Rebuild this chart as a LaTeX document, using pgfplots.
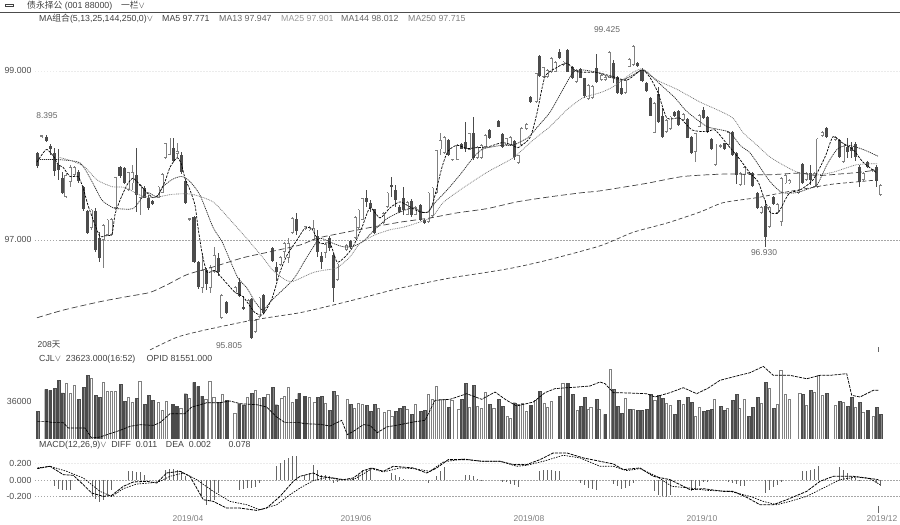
\documentclass[border=0pt]{standalone}
\usepackage{fontspec}
\setmainfont{Liberation Sans}
\newfontfamily\cjk{Noto Sans CJK SC}
\usepackage{pgfplots}
\usepackage{pgfplotstable}
\pgfplotsset{compat=1.18}

% candles: x position, low, body bottom, body top, high
\pgfplotstableread{
x l b t h
37.7 97.85 97.88 98.03 98.04
46.3 98.16 98.17 98.22 98.24
50.3 98.01 98.07 98.11 98.14
54.3 97.76 97.82 98.03 98.09
58.3 97.71 97.83 97.89 98.08
62.3 97.54 97.56 97.73 97.80
78.3 97.67 97.70 97.80 97.83
83.3 97.34 97.36 97.63 97.64
87.3 97.07 97.08 97.34 97.36
95.3 96.86 96.88 97.34 97.38
99.3 96.74 96.79 97.02 97.09
120 97.73 97.76 97.86 97.88
124.3 97.66 97.67 97.85 97.86
136.3 97.33 97.53 97.77 98.09
144.3 97.49 97.50 97.62 97.64
148.3 97.36 97.38 97.50 97.53
152.3 97.41 97.43 97.46 97.47
173.3 97.92 97.93 98.09 98.21
181.3 97.78 97.80 98.01 98.04
185.6 97.43 97.44 97.70 97.71
194 96.73 96.74 97.27 97.28
198.3 96.42 96.44 96.74 96.75
206.3 96.41 96.48 96.64 96.67
218.3 96.57 96.62 96.79 96.85
226.3 96.13 96.14 96.27 96.28
239.3 96.33 96.34 96.50 96.55
243.3 96.17 96.18 96.21 96.34
251.3 95.83 95.84 96.30 96.31
263.3 96.12 96.14 96.35 96.36
272.3 96.74 96.75 96.90 96.92
276.3 96.51 96.62 96.68 96.74
296.3 97.06 97.11 97.25 97.32
317.3 96.80 96.86 97.05 97.12
321.3 96.66 96.74 96.81 96.86
329.3 96.87 96.91 97.02 97.05
333.3 96.27 96.43 96.82 96.85
350.3 96.89 96.92 96.99 97.00
366.3 97.39 97.45 97.50 97.59
370.3 97.33 97.38 97.44 97.47
374.3 97.07 97.08 97.36 97.37
391.3 97.51 97.63 97.65 97.75
395.3 97.39 97.47 97.59 97.65
399.3 97.32 97.33 97.39 97.41
403.3 97.30 97.36 97.50 97.63
411.3 97.27 97.30 97.46 97.49
420.3 97.22 97.24 97.41 97.43
424.3 97.19 97.20 97.24 97.25
448.3 97.99 98.01 98.18 98.20
461.3 98.07 98.08 98.14 98.15
465.3 98.04 98.08 98.16 98.40
473.3 97.95 97.97 98.27 98.46
489.3 98.20 98.21 98.30 98.31
498.3 98.33 98.34 98.41 98.42
502.3 98.09 98.10 98.25 98.27
514.3 97.95 97.98 98.17 98.18
530.7 98.62 98.63 98.69 98.70
539.3 98.93 98.94 99.18 99.19
559.3 99.14 99.15 99.22 99.26
567.7 98.98 98.99 99.25 99.26
572.3 98.90 98.92 99.05 99.06
580.3 98.91 98.92 99.02 99.03
584.3 98.68 98.70 98.92 98.92
596.3 98.86 98.87 99.03 99.20
613.3 98.86 98.92 99.09 99.13
617.3 98.72 98.74 98.93 98.94
621.3 98.72 98.73 98.80 98.89
637.3 99.05 99.06 99.09 99.10
642 98.87 98.88 99.01 99.03
646.3 98.75 98.76 98.86 98.87
650.3 98.46 98.47 98.68 98.69
658.3 98.38 98.40 98.72 98.81
662.3 98.21 98.22 98.46 98.56
674.3 98.45 98.46 98.51 98.52
678.3 98.35 98.36 98.53 98.54
687.3 98.20 98.21 98.43 98.44
691.3 98.02 98.03 98.22 98.23
703.3 98.43 98.44 98.54 98.57
707.3 98.27 98.28 98.46 98.47
711.3 98.06 98.07 98.19 98.20
724.3 98.06 98.07 98.15 98.15
732.3 97.99 98.01 98.28 98.29
736.3 97.66 97.77 98.03 98.04
752.3 97.63 97.64 97.79 97.80
757.3 97.37 97.38 97.56 97.57
765.3 96.92 97.04 97.40 97.47
773.3 97.41 97.43 97.51 97.52
802.3 97.66 97.67 97.90 97.91
810.3 97.65 97.71 97.79 97.89
826.7 98.21 98.22 98.33 98.34
839.3 97.97 97.98 98.18 98.19
847.3 97.97 98.04 98.10 98.21
851.3 97.97 98.05 98.10 98.16
855.3 97.93 97.98 98.14 98.16
859.3 97.63 97.69 97.86 97.89
867.7 97.85 97.86 97.92 97.93
876.3 97.63 97.70 97.86 97.89
}\candlesdown

\pgfplotstableread{
x l b t h
42 98.21 98.22 98.24 98.24
66 97.50 97.51 97.77 97.79
70 97.63 97.69 97.86 97.89
74 97.75 97.77 97.86 97.88
91.3 97.12 97.14 97.36 97.37
103.3 96.67 97.00 97.18 97.19
107.3 97.05 97.06 97.24 97.25
111 97.05 97.06 97.25 97.26
115 97.36 97.38 97.74 97.75
128.3 97.58 97.59 97.80 97.81
132.3 97.59 97.67 97.80 97.89
140.3 97.30 97.50 97.65 97.66
158 97.49 97.50 97.63 97.64
162 97.55 97.56 97.78 97.79
165 97.96 97.97 98.15 98.15
169 98.00 98.01 98.21 98.21
177.3 97.97 98.02 98.05 98.15
189 97.23 97.24 97.26 97.26
202.3 96.37 96.43 96.64 96.85
210.3 96.37 96.43 96.68 96.70
214.3 96.61 96.62 96.82 96.92
221.7 96.07 96.08 96.35 96.36
235 96.37 96.38 96.44 96.45
248 96.04 96.05 96.29 96.30
255.3 95.90 95.91 96.05 96.06
259.3 96.08 96.09 96.32 96.33
280.3 96.69 96.70 96.80 96.81
284.3 96.79 96.86 96.96 96.98
288.3 96.73 96.79 96.96 97.02
292.3 97.07 97.08 97.26 97.27
305 97.12 97.13 97.16 97.17
309 97.11 97.12 97.15 97.16
313.3 96.99 97.00 97.14 97.24
325.3 96.79 96.85 96.95 96.96
337.3 96.52 96.53 96.72 96.73
346.6 96.87 96.88 96.94 96.95
355 97.01 97.02 97.27 97.28
358.3 97.13 97.14 97.36 97.37
362.3 97.23 97.24 97.49 97.50
383.3 97.19 97.20 97.32 97.33
387.3 97.38 97.39 97.56 97.57
407.3 97.29 97.30 97.45 97.46
415.3 97.29 97.30 97.39 97.40
428.3 97.20 97.21 97.56 97.57
432.3 97.27 97.28 97.62 97.63
436.3 97.55 97.56 98.06 98.07
440.3 98.01 98.07 98.18 98.26
444.3 98.02 98.03 98.22 98.23
452.3 97.94 97.95 97.96 97.96
457.7 97.94 97.95 98.12 98.13
469.3 98.06 98.07 98.26 98.27
477.3 97.96 97.97 98.10 98.11
481.3 97.96 97.97 98.12 98.13
485.3 98.09 98.10 98.24 98.25
506.3 98.11 98.12 98.20 98.21
510.3 98.11 98.12 98.22 98.23
518.3 97.90 97.91 98.00 98.01
521.7 98.11 98.12 98.32 98.33
526.7 98.30 98.31 98.37 98.38
536 98.62 98.63 98.97 98.98
543.3 98.92 98.93 99.04 99.05
547.3 98.92 98.93 99.01 99.02
551.3 98.98 98.99 99.15 99.16
555.3 98.98 98.99 99.10 99.11
563.3 99.06 99.07 99.11 99.12
576.3 98.86 98.87 99.01 99.02
588.3 98.66 98.67 98.83 98.84
592.3 98.67 98.68 98.82 98.83
601.7 98.88 98.89 98.95 98.96
605 98.88 98.89 98.93 98.94
609.3 98.91 98.92 99.22 99.23
625.3 98.73 98.74 98.89 98.90
629.3 99.04 99.05 99.14 99.15
633.3 99.06 99.07 99.29 99.30
654.3 98.26 98.27 98.62 98.63
666 98.27 98.28 98.42 98.43
670 98.30 98.31 98.46 98.47
683.3 98.41 98.42 98.49 98.50
695.3 97.92 98.04 98.26 98.27
699.3 98.33 98.34 98.48 98.49
715 97.88 97.89 98.14 98.14
720.3 98.09 98.10 98.12 98.13
728.3 98.11 98.12 98.28 98.29
740.3 97.64 97.65 97.79 97.80
744.3 97.65 97.77 97.86 97.87
748.3 97.78 97.79 97.80 97.81
761.3 97.31 97.32 97.39 97.40
769.3 97.14 97.15 97.39 97.40
777.3 97.31 97.32 97.43 97.44
781.3 97.17 97.21 97.73 97.74
785.3 97.66 97.67 97.77 97.78
789.3 97.66 97.67 97.71 97.72
798.3 97.55 97.56 97.80 97.81
806.3 97.70 97.71 97.79 97.80
814.3 97.62 97.63 97.79 97.80
817.7 97.62 97.63 98.20 98.21
822.3 98.22 98.23 98.28 98.29
835.3 98.17 98.18 98.22 98.23
843.3 97.91 97.92 98.14 98.15
863.3 97.70 97.71 97.79 97.80
872 97.81 97.82 97.84 97.84
880.7 97.52 97.53 97.65 97.66
}\candlesup

% volume, in thousands
\pgfplotstableread{
x v
37.3 26.2
46 47.0
50 46.1
54.3 48.3
58.3 55.6
62.3 43.6
78.3 37.6
83.3 48.9
87.3 60.3
95.3 41.4
99.3 39.5
120.3 51.8
124.3 35.7
136.3 38.8
144.3 32.8
148.3 41.4
152.3 36.6
172.7 32.8
176.7 30.9
185.3 42.9
194 53.7
198 49.9
202 40.7
218.3 35.0
226.7 36.6
239 33.5
243.3 32.5
251.3 43.3
263.3 39.5
272.3 48.9
276.3 32.5
296.3 37.6
299 43.3
304.7 40.4
317.3 39.5
321.3 40.4
329.3 27.2
333.3 45.1
350.3 32.8
366.3 31.9
370.3 26.2
374.3 32.8
395.3 26.2
399.3 29.0
403.3 30.9
411.3 23.4
420.3 26.2
424.3 27.2
448.3 30.0
461.3 37.6
465.3 52.7
473.3 50.8
489.3 32.8
498.3 37.6
502.3 30.9
514.3 34.4
530.7 31.9
539.3 45.1
559.3 40.4
567.7 52.7
572.3 42.3
580.3 30.9
584.3 39.5
596.3 37.6
605 23.4
613.3 47.0
617.3 30.9
621.3 24.3
629.3 28.1
637.3 27.2
641.3 27.2
646.3 28.1
650.3 42.3
658.3 41.4
662.3 38.5
674.3 23.4
678.3 36.6
687.3 39.5
691.3 34.7
703.3 26.2
707.3 27.2
711.3 28.1
720.3 30.9
724.3 27.2
732.3 36.6
736.3 42.3
748.3 21.5
752.3 30.0
757.3 39.5
765.3 53.7
773.3 29.0
802.3 42.3
810.3 46.1
826.3 43.3
839.3 35.7
847.3 30.9
851.3 39.5
859.3 34.7
867.7 27.2
876.3 30.0
880.3 23.4
}\voldown

\pgfplotstableread{
x v
66.3 52.4
70.3 43.3
74.3 50.8
91.3 57.8
103.3 53.4
107.3 45.1
111.3 45.1
115.3 45.1
128.3 39.8
132.3 34.4
140 54.6
158.3 35.0
162.3 27.2
166.3 35.7
180.7 28.7
189.3 38.2
206 37.6
210 54.6
214 39.8
222.3 42.6
235 24.0
247.3 39.5
255.3 45.8
259.3 38.8
267.7 42.0
281.7 38.2
284.3 40.4
288.3 48.9
292.3 35.0
309.3 39.1
314.7 35.0
325.3 33.5
337.3 41.0
347.3 37.3
354.3 28.7
358.3 33.5
362.3 32.8
378.3 28.7
384.3 24.9
388.7 27.2
391.7 21.5
406.7 27.8
415.3 32.5
428.3 42.0
432.3 37.6
436.3 49.9
440.3 37.6
444.3 37.6
451.7 36.6
458.7 28.1
469.3 30.0
477.3 30.9
481.3 28.7
485.3 44.5
494 28.7
507.3 21.5
510.3 19.3
518.3 32.8
522.3 33.5
526.3 26.2
535.3 36.6
544.3 33.5
547.3 30.0
551.3 35.7
562.7 52.7
577.3 27.2
588.3 28.1
591 30.0
599 28.1
610.3 66.0
625.3 38.5
633.3 28.1
655 36.6
666.3 33.5
670.3 31.9
683.3 32.8
695.3 21.5
699.3 30.0
714.3 37.6
727.3 29.0
739.3 29.0
744.3 37.6
761.3 33.5
769.3 48.0
777.3 32.8
780.7 65.0
785.3 42.3
789.3 37.6
800 42.9
806.3 31.9
814.3 44.2
818.3 60.3
822.3 41.4
835.3 31.9
843.3 34.7
855.3 30.0
862.7 25.3
873.3 21.5
}\volup

% MACD histogram
\pgfplotstableread{
x v
54.3 -.076
58.3 -.104
62.3 -.116
66.3 -.124
70.3 -.116
92 -.196
95.3 -.224
99.3 -.264
103.3 -.236
107.3 -.176
111.3 -.116
128.3 .104
132.3 .112
136.3 .096
140.3 .092
144.3 .064
165.7 .124
169.7 .136
173.7 .132
177.7 .124
181.7 .104
185.7 .044
201.7 -.196
206 -.304
210 -.256
214 -.236
218.3 -.156
239.3 -.116
243.3 -.108
247.3 -.096
251.3 -.096
255.3 -.084
259.3 -.036
276.3 .164
280.3 .204
284.3 .24
288.3 .264
292.3 .284
296.3 .284
304.7 .064
309.3 .084
313.3 .184
317.3 .124
321.3 .056
325.3 .056
329.3 .044
333.3 -.036
337.3 -.024
353.3 .024
358.3 .064
362.3 .116
366.3 .124
370.3 .136
391.7 .084
395.7 .064
399.3 .036
403.3 .012
428.3 -.04
436 .052
440.3 .104
444.3 .152
465.3 .056
469.3 .064
473.3 .044
477.3 .012
481.7 -.016
502.3 -.024
506.7 -.028
510.7 -.048
514.3 -.064
518.3 -.088
539.3 .112
543.3 .124
547.3 .124
551.3 .124
555.3 .112
559.3 .104
580.3 -.032
584.3 -.056
588.3 -.096
592.3 -.108
596.3 -.116
613.3 -.048
617.3 -.076
621.3 -.104
625.3 -.096
629.3 -.076
633.3 -.036
654.3 -.136
658.3 -.176
662.3 -.196
666.3 -.204
670.3 -.176
691 -.136
695 -.116
699 -.076
703 -.024
707 -.024
728.3 -.024
732.3 -.036
736.3 -.048
740.3 -.068
744.3 -.076
765.3 -.156
769.3 -.124
773.3 -.088
777.3 -.056
781.3 -.024
802.3 .112
806.3 .112
810.3 .124
814.3 .132
818.3 .172
839.3 .152
843.3 .124
847.3 .084
851.3 .044
855.3 .024
859.3 .004
876.3 -.036
880.3 -.076
}\macdhist

\pgfplotsset{
  panel/.style={
    anchor=south west, scale only axis, width=865pt, xmin=35, xmax=900,
    axis line style={draw=none}, tick style={draw=none}, xtick=\empty,
    tick label style={font=\fontsize{8.8}{10}\selectfont, text=black!70},
    /pgf/number format/assume math mode=true,
    grid style={dash pattern=on 1.5pt off 1.5pt, black!35, line width=.5pt},
  },
  wick/.style={draw=none, mark=none, forget plot,
    error bars/.cd, y dir=both, y explicit, error mark=none,
    error bar style={line width=.8pt, draw=#1}},
  body/.style 2 args={draw=none, mark=none, forget plot,
    error bars/.cd, y dir=both, y explicit, error mark=none,
    error bar style={line width=#2, line cap=butt, draw=#1}},
  ma/.style={no marks, smooth, tension=.4, line width=.7pt, forget plot},
}

\begin{document}
\begin{tikzpicture}[x=1pt,y=1pt]
\path[use as bounding box] (0,0) rectangle (900,525);

\begin{axis}[panel, at={(35pt,170pt)}, height=335pt,
    ymin=95.64, ymax=99.60, ytick={97}, ymajorgrids,
    extra y ticks={99}, extra tick style={grid style={black!8}},
    yticklabel style={/pgf/number format/.cd, fixed, fixed zerofill, precision=3},
    extra y tick style={yticklabel style={/pgf/number format/.cd, fixed, fixed zerofill, precision=3}},
  ]
  \addplot[wick=black!50] table[x=x, y expr={(\thisrow{h}+\thisrow{l})/2}, y error expr={(\thisrow{h}-\thisrow{l})/2}] {\candlesup};
  \addplot[body={black!50}{3pt}] table[x=x, y expr={(\thisrow{t}+\thisrow{b})/2}, y error expr={(\thisrow{t}-\thisrow{b})/2}] {\candlesup};
  \addplot[body={white}{1.7pt}] table[x=x, y expr={(\thisrow{t}+\thisrow{b})/2}, y error expr={max(0,(\thisrow{t}-\thisrow{b})/2-0.01)}] {\candlesup};
  \addplot[wick=black!70] table[x=x, y expr={(\thisrow{h}+\thisrow{l})/2}, y error expr={(\thisrow{h}-\thisrow{l})/2}] {\candlesdown};
  \addplot[body={black!70}{3.2pt}] table[x=x, y expr={(\thisrow{t}+\thisrow{b})/2}, y error expr={(\thisrow{t}-\thisrow{b})/2}] {\candlesdown};

  % MA5
  \addplot[ma, black, dash pattern=on 2.5pt off 1.2pt] coordinates {
    (37,97.92)(42,98.01)(47,98.07)(54,97.98)(58,97.89)(63,97.86)(70,97.75)(78,97.75)(83,97.62)(88,97.41)
    (95,97.18)(100,97.04)(105,97.05)(112,97.07)(115,97.30)(120,97.47)(127,97.65)(133,97.73)(140,97.65)
    (147,97.56)(153,97.50)(158,97.53)(165,97.69)(170,97.86)(177,97.97)(181,97.91)(185,97.73)(190,97.59)
    (195,97.41)(198,97.15)(202,96.85)(207,96.62)(215,96.64)(222,96.55)(235,96.38)(243,96.33)(255,96.14)
    (263,96.12)(272,96.31)(280,96.62)(287,96.82)(297,97.00)(305,97.14)(312,97.13)(320,96.96)(330,96.96)
    (337,96.74)(345,96.80)(353,96.92)(362,97.15)(370,97.38)(380,97.26)(390,97.38)(400,97.45)(410,97.39)
    (420,97.33)(428,97.33)(433,97.44)(442,97.86)(448,98.05)(457,98.12)(467,98.08)(475,98.09)(488,98.10)
    (502,98.15)(513,98.12)(518,98.09)(530,98.21)(537,98.50)(545,98.93)(557,99.04)(567,99.09)(577,98.99)
    (597,98.98)(613,98.93)(627,98.89)(642,99.01)(650,98.92)(658,98.74)(667,98.44)(680,98.44)(692,98.30)
    (707,98.28)(715,98.30)(728,98.12)(740,97.95)(750,97.79)(758,97.69)(763,97.53)(770,97.33)(778,97.32)
    (785,97.47)(790,97.56)(800,97.59)(813,97.71)(825,97.98)(833,98.22)(842,98.15)(853,98.07)(863,97.92)(877,97.79)};
  % MA13
  \addplot[ma, black!85, dash pattern=on 1.2pt off .8pt] coordinates {
    (38,97.95)(58,97.95)(80,97.91)(92,97.69)(102,97.47)(113,97.38)(117,97.37)(133,97.37)(142,97.50)(148,97.56)
    (157,97.51)(163,97.63)(173,97.72)(182,97.75)(190,97.69)(200,97.53)(213,97.15)(222,96.98)(230,96.76)
    (238,96.55)(247,96.43)(255,96.27)(263,96.17)(272,96.29)(293,96.53)(305,96.76)(313,96.91)(320,97.02)
    (333,96.96)(343,96.92)(352,96.92)(363,96.98)(372,97.09)(380,97.18)(388,97.26)(400,97.33)(413,97.38)
    (422,97.33)(428,97.33)(435,97.44)(447,97.59)(460,97.77)(473,97.97)(482,98.07)(492,98.10)(503,98.12)
    (513,98.12)(528,98.21)(537,98.33)(550,98.51)(563,98.78)(573,98.98)(582,99.01)(597,98.98)(620,98.89)
    (633,98.95)(642,99.01)(650,98.95)(663,98.81)(675,98.68)(685,98.54)(695,98.44)(707,98.34)(717,98.31)
    (730,98.27)(740,98.12)(750,98.03)(760,97.86)(770,97.69)(782,97.56)(797,97.56)(807,97.60)(817,97.65)
    (827,97.89)(837,98.07)(848,98.12)(863,98.07)(878,97.99)};
  % MA25
  \addplot[ma, black!55, dash pattern=on .9pt off .9pt] coordinates {
    (58,97.98)(73,97.93)(85,97.86)(97,97.71)(112,97.63)(125,97.62)(140,97.53)(153,97.50)(173,97.54)(192,97.54)
    (213,97.45)(230,97.24)(248,97.00)(263,96.79)(273,96.64)(285,96.53)(293,96.51)(312,96.61)(323,96.64)
    (337,96.67)(350,96.80)(360,96.96)(375,97.06)(390,97.12)(403,97.15)(417,97.20)(432,97.27)(443,97.44)
    (460,97.59)(487,97.80)(513,97.97)(533,98.18)(550,98.34)(567,98.54)(583,98.68)(600,98.74)(613,98.81)
    (633,98.98)(643,99.02)(657,98.89)(677,98.78)(700,98.63)(717,98.54)(733,98.44)(743,98.27)(757,98.12)
    (770,97.98)(787,97.86)(800,97.79)(817,97.77)(833,97.80)(857,97.89)(877,97.90)};
  % MA144
  \addplot[ma, black!75, dash pattern=on 6pt off 3pt] coordinates {
    (37,96.08)(63,96.17)(100,96.27)(127,96.33)(150,96.38)(167,96.47)(187,96.59)(213,96.68)(243,96.79)(270,96.86)
    (300,96.94)(317,97.02)(337,97.07)(367,97.14)(400,97.21)(430,97.26)(457,97.32)(487,97.37)(517,97.45)
    (550,97.51)(583,97.56)(600,97.58)(647,97.67)(683,97.75)(727,97.78)(767,97.77)(800,97.79)(817,97.76)
    (840,97.78)(860,97.80)(878,97.83)};
  % MA250
  \addplot[ma, black!75, dash pattern=on 4pt off 2.5pt] coordinates {
    (150,95.70)(177,95.85)(203,95.93)(243,96.03)(267,96.08)(300,96.14)(333,96.23)(367,96.33)(400,96.43)(450,96.55)
    (483,96.61)(513,96.67)(547,96.76)(600,96.93)(633,97.09)(667,97.20)(700,97.33)(723,97.44)(757,97.50)
    (783,97.56)(817,97.63)(833,97.66)(860,97.69)(878,97.71)};
  % cursor
  \addplot[black!60, line width=.8pt, forget plot] coordinates {(878,95.68)(878,95.74)};
\end{axis}

\begin{axis}[panel, at={(35pt,86pt)}, height=74pt,
    ymin=0, ymax=70.1, ytick={36}, yticklabels={36000},
    ybar, bar width=2.6pt, bar shift=0pt,
  ]
  \addplot[draw=black!50, fill=white, line width=.6pt] table[x=x, y=v] {\volup};
  \addplot[draw=black!70, fill=black!70, line width=.2pt] table[x=x, y=v] {\voldown};
\end{axis}
\begin{axis}[panel, at={(35pt,86pt)}, height=74pt, ymin=0, ymax=70.1, ytick=\empty]
  % OPID
  \addplot[no marks, black, line width=.7pt, dash pattern=on 3pt off 1pt] coordinates {
    (37.3,16.7)(46,16.7)(53.3,15.5)(63.3,15.5)(68.3,10.4)(85,10.4)(91.7,.9)(100,1.9)(110,5.1)(120,8.2)(130,12.0)
    (140,13.6)(153.3,12.9)(160,15.5)(170,24.0)(185,24.0)(191.7,30.3)(198.3,31.9)(206.7,34.4)(220,34.4)(230,36.0)
    (240,33.5)(256.7,32.5)(266.7,30.3)(276.7,20.8)(285,15.5)(300,15.5)(304.7,14.5)(320,13.9)(330,12.3)(341.7,17.7)
    (347.3,4.1)(355,8.2)(363.3,13.6)(370,12.9)(377.3,6.0)(386.7,11.4)(400,13.6)(413.3,16.1)(425,17.7)(435,36.6)
    (450,37.6)(466.7,42.9)(481.7,37.6)(495,44.5)(506.7,36.6)(516.7,31.3)(533.3,35.0)(545,43.9)(555,47.7)(563.3,48.3)
    (576.7,49.2)(590,50.2)(600,54.0)(605,52.4)(613.3,43.9)(628.3,43.6)(646.7,42.9)(655,39.8)(670,43.9)(683.3,48.6)
    (696.7,42.9)(708.3,48.3)(720,55.6)(736.7,59.7)(750,62.8)(763.3,68.8)(773.3,60.3)(790,60.3)(806.7,57.1)(820,60.3)
    (830,60.3)(846.7,61.9)(851.7,41.4)(860,39.8)(873.3,46.1)(878.3,46.1)};
\end{axis}

\begin{axis}[panel, at={(35pt,10pt)}, height=63pt,
    ymin=-.419, ymax=.335, ytick={0,-.2}, ymajorgrids,
    extra y ticks={.2}, extra tick style={grid style={black!8}},
    yticklabel style={/pgf/number format/.cd, fixed, fixed zerofill, precision=3},
    extra y tick style={yticklabel style={/pgf/number format/.cd, fixed, fixed zerofill, precision=3}},
    xtick={188,356,529,702,882}, xticklabels={2019/04,2019/06,2019/08,2019/10,2019/12},
    xticklabel style={font=\fontsize{8.5}{10}\selectfont, text=black!50},
    xticklabel shift=-3pt,
  ]
  \addplot[ycomb, no marks, black!60, line width=.8pt, forget plot] table[x=x, y=v] {\macdhist};
  % DIFF
  \addplot[no marks, black, line width=.8pt, dash pattern=on 3pt off 1pt] coordinates {
    (37.3,.136)(50,.164)(63.3,.064)(73.3,.056)(83.3,-.056)(91.7,-.156)(103.3,-.196)(111.7,-.184)(123.3,-.076)
    (133.3,-.024)(146.7,-.016)(156.7,-.036)(166.7,.084)(180,.104)(190,.044)(203.3,-.236)(213.3,-.256)(226.7,-.336)
    (240,-.336)(256.7,-.364)(266.7,-.336)(280,-.196)(293.3,-.016)(300,.044)(313.3,.084)(320,.044)(333.3,.024)
    (343.3,.004)(353.3,.024)(363.3,.112)(371.7,.144)(383.3,.104)(393.3,.164)(413.3,.144)(426.7,.084)(436.7,.144)
    (448.3,.244)(466.7,.244)(481.7,.224)(500,.224)(513.3,.184)(526.7,.184)(540,.244)(553.3,.324)(566.7,.324)
    (583.3,.264)(600,.224)(613.3,.192)(623.3,.124)(640,.144)(653.3,.044)(670,.004)(690,-.116)(703.3,-.104)
    (723.3,-.136)(733.3,-.136)(746.7,-.208)(760,-.296)(773.3,-.296)(786.7,-.236)(806.7,-.136)(820,-.016)
    (833.3,.044)(853.3,.044)(866.7,.024)(878.3,.004)};
  % DEA
  \addplot[no marks, black, line width=.7pt, dash pattern=on 1.5pt off 1.2pt] coordinates {
    (37.3,.144)(50,.164)(66.7,.104)(83.3,.024)(100,-.136)(111.7,-.196)(123.3,-.104)(136.7,-.048)(150,-.036)
    (160,-.016)(170,.044)(183.3,.084)(196.7,.004)(213.3,-.136)(230,-.256)(246.7,-.296)(260,-.356)(276.7,-.296)
    (290,-.176)(300,-.096)(313.3,-.008)(326.7,.032)(340,.004)(353.3,.004)(363.3,.072)(371.7,.136)(383.3,.096)
    (400,.144)(413.3,.136)(430,.104)(443.3,.216)(463.3,.252)(481.7,.224)(500,.224)(516.7,.164)(526.7,.176)
    (543.3,.224)(563.3,.296)(580,.264)(600,.164)(613.3,.164)(626.7,.112)(640,.136)(656.7,.044)(671.7,-.076)
    (690,-.096)(706.7,-.124)(730,-.136)(750,-.196)(763.3,-.256)(776.7,-.296)(790,-.256)(806.7,-.196)(820,-.116)
    (840,.004)(856.7,.036)(870,.016)(880,-.056)};
  % cursor
  \addplot[black!60, line width=.8pt, forget plot] coordinates {(878,-.31)(878,-.395)};
\end{axis}

% header bar
\draw[black!70, line width=.7pt] (0,513) -- (900,513);
\draw[black!75, line width=1pt] (5,518) rectangle (13,520);
\tikzset{txt/.style={anchor=west, inner sep=0pt, text=black!75, font=\fontsize{8.8}{10}\selectfont}}
\node[txt] at (27,519.5) {{\cjk 债永择公} (001 88000)\quad {\cjk 一栏}$\vee$};
\node[txt] at (39,506.5) {MA{\cjk 组合}(5,13,25,144,250,0)$\vee$};
\node[txt] at (162,506.5) {MA5 97.771};
\node[txt, text=black!60] at (219,506.5) {MA13 97.947};
\node[txt, text=black!40] at (281,506.5) {MA25 97.901};
\node[txt, text=black!60] at (341,506.5) {MA144 98.012};
\node[txt, text=black!50] at (408,506.5) {MA250 97.715};
% extreme values
\tikzset{ext/.style={anchor=center, inner sep=0pt, text=black!60, font=\fontsize{8.5}{10}\selectfont}}
\node[ext] at (47,409) {8.395};
\node[ext] at (607,495) {99.425};
\node[ext] at (229,179) {95.805};
\node[ext] at (764,272) {96.930};
\node[ext, text=black!75] at (49,180) {208{\cjk 天}};
% sub panel captions
\node[txt] at (39,165.5) {CJL$\vee$\ \ 23623.000(16:52)\quad\ OPID 81551.000};
\node[txt] at (39,80) {MACD(12,26,9)$\vee$\ \ DIFF\ \ 0.011\quad DEA\ \ 0.002\qquad 0.078};
\end{tikzpicture}
\end{document}
